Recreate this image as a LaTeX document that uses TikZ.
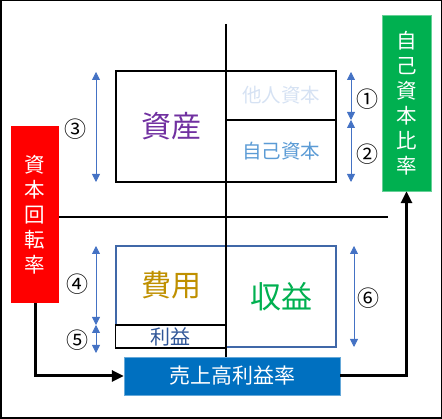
\documentclass[tikz,border=0pt]{standalone}
\usepackage{fontspec}
\setmainfont{Noto Sans CJK JP}
\usetikzlibrary{arrows.meta}
\definecolor{cpurple}{HTML}{7030A0}
\definecolor{clight}{HTML}{D6E2F3}
\definecolor{cmid}{HTML}{5B9BD5}
\definecolor{cgold}{HTML}{BF9000}
\definecolor{cgreen}{HTML}{00B050}
\definecolor{cdark}{HTML}{2F5597}
\definecolor{cborder}{HTML}{4068A8}
\definecolor{cred}{HTML}{FF0000}
\definecolor{cblue}{HTML}{0070C0}
\definecolor{carrow}{HTML}{4472C4}
\tikzset{
  box/.style={draw=black, line width=1.4pt, inner sep=0pt},
  bbox/.style={draw=cborder, line width=1.1pt, inner sep=0pt},
  dim/.style={draw=carrow, line width=0.8pt, {Triangle[width=8pt,length=8pt]}-{Triangle[width=8pt,length=8pt]}},
  num/.style={font=\fontsize{22}{22}\selectfont, inner sep=0pt},
  flow/.style={line width=3pt, -{Triangle[width=11pt,length=12pt]}},
  vbox/.style={inner sep=0pt, text=white, align=center, font=\fontsize{20.5}{25}\selectfont},
}
\begin{document}
\begin{tikzpicture}[x=1pt,y=-1pt]
\useasboundingbox (0,0) rectangle (442,419);
\draw[line width=1.5pt] (0.75,0.75) rectangle (441.25,418.25);
% top box
\node[box, minimum width=110pt, minimum height=111pt, text=cpurple, font=\fontsize{30}{30}\selectfont] (asset) at (171,126.5) {資産};
\node[box, minimum width=110pt, minimum height=49pt, text=clight, font=\fontsize{19.5}{19.5}\selectfont] (debt) at (281,95.5) {他人資本};
\node[box, minimum width=110pt, minimum height=62pt, text=cmid, font=\fontsize{19.5}{19.5}\selectfont] (equity) at (281,151) {自己資本};
% bottom box
\node[bbox, minimum width=110pt, minimum height=101pt, text=cgreen, font=\fontsize{31}{31}\selectfont] (rev) at (281,296.5) {収益};
\node[bbox, minimum width=110pt, minimum height=79pt, text=cgold, font=\fontsize{30}{30}\selectfont] (cost) at (171,285.5) {費用};
\node[box, minimum width=110pt, minimum height=23pt, text=cdark, font=\fontsize{20}{20}\selectfont] (profit) at (170.5,336.5) {利益};
% colored boxes
\node[vbox, fill=cgreen, draw=cgreen!60, minimum width=49pt, minimum height=176pt] (green) at (406.5,103) {自\\己\\資\\本\\比\\率};
\node[vbox, fill=cred, minimum width=48pt, minimum height=177pt] (red) at (35,214.5) {資\\本\\回\\転\\率};
\node[inner sep=0pt, fill=cblue, draw=cblue!60, text=white, minimum width=216pt, minimum height=38pt, font=\fontsize{21}{21}\selectfont] (sales) at (232,376) {売上高利益率};
% axes
\coordinate (vtop) at (226,24);
\coordinate (hend) at (388,217);
\draw[line width=1.5pt] (vtop) -- (vtop |- sales.north);
\draw[line width=1.5pt] (red.east |- hend) -- (hend);
% flows
\draw[flow] (red.south) |- (sales.west);
\draw[flow] (sales.east) -| (green.south);
% dimension arrows
\coordinate (a3t) at (96,72);  \coordinate (a3b) at (96,182);
\coordinate (a1t) at (351,72); \coordinate (a1b) at (351,120); \coordinate (a2b) at (351,182);
\coordinate (a4t) at (96,246); \coordinate (a4b) at (96,325); \coordinate (a5b) at (96,353);
\coordinate (a6t) at (354,246); \coordinate (a6b) at (354,347);
\draw[dim] (a3t) -- (a3b);
\draw[dim] (a1t) -- (a1b);
\draw[dim] (a1b) -- (a2b);
\draw[dim] (a4t) -- (a4b);
\draw[dim] (a4b) -- (a5b);
\draw[dim] (a6t) -- (a6b);
\node[num] (n3) at (75,129) {③};
\node[num] (n1) at (367,99) {①};
\node[num] (n2) at (367,154) {②};
\node[num] (n4) at (77,284) {④};
\node[num] (n5) at (77,340) {⑤};
\node[num] (n6) at (368,298) {⑥};
\end{tikzpicture}
\end{document}
